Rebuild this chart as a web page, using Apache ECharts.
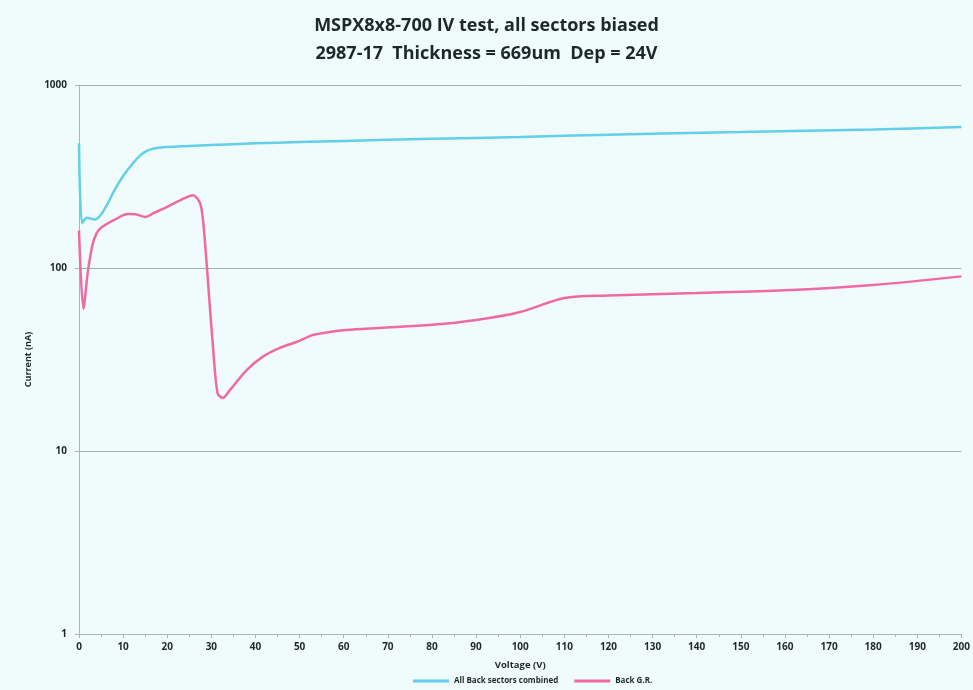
<!DOCTYPE html>
<html><head><meta charset="utf-8">
<script src="https://cdn.jsdelivr.net/npm/echarts@6/dist/echarts.min.js"></script>
<style>html,body{margin:0;padding:0;background:#f0fbfb}#c{width:973px;height:690px}</style>
</head><body><div id="c"></div>
<script>
const titleLines = ['MSPX8x8-700 IV test, all sectors biased', '2987-17  Thickness = 669um  Dep = 24V'];
const seriesNames = ['All Back sectors combined', 'Back G.R.'];
const voltsAll = [0, 0.7, 1.8, 3.6, 5, 6.5, 8, 10, 12, 14, 15.5, 17, 20, 25, 30, 40, 50, 60, 80, 100, 120, 150, 180, 200];
const currentAll = [480, 176, 188, 184, 196, 225, 265, 318, 368, 415, 438, 450, 458, 464, 470, 480, 488, 495, 508, 520, 535, 553, 572, 589];
const voltsGR = [0, 1, 2, 3, 4, 5, 8, 11, 13, 15, 17, 20, 23, 25.8, 27.4, 28.1, 29, 29.6, 30.3, 31.4, 32.6, 34.2, 38, 41.6, 45.5, 49.3, 52.9, 56.8, 60.6, 68.1, 80, 90, 100, 110, 120, 140, 160, 180, 200];
const currentGR = [160, 60, 95, 132, 155, 166, 183, 197, 196, 190, 200, 216, 235, 250, 227, 183, 101, 64, 39, 20.7, 19.5, 21.5, 27.7, 32.7, 36.6, 39.4, 43, 44.7, 45.8, 47, 48.9, 52, 57.5, 68.6, 70.8, 73, 75.5, 80.8, 90];
const xTicks = {min: 0, max: 200, interval: 10};
const yTicks = {min: 1, max: 1000};

const pair = (xs, ys) => xs.map((x, i) => [x, ys[i]]);
const font = '"Open Sans", "Noto Sans", sans-serif';
const ink = '#1a2a2a';
const chart = echarts.init(document.getElementById('c'));
chart.setOption({
  backgroundColor: '#f0fbfb',
  animation: false,
  title: {
    text: titleLines.join('\n'), left: 'center', top: 7,
    textStyle: {fontFamily: font, fontSize: 18, fontWeight: 'bold', color: ink, lineHeight: 28}
  },
  grid: {left: 79, right: 10, top: 85, bottom: 56},
  legend: {
    bottom: 0, left: 408, itemWidth: 36, itemHeight: 3, itemGap: 16, icon: 'rect',
    textStyle: {fontFamily: font, fontSize: 8, fontWeight: 'bold', color: ink},
    data: seriesNames
  },
  xAxis: {
    type: 'value', min: xTicks.min, max: xTicks.max, interval: xTicks.interval,
    name: 'Voltage (V)', nameLocation: 'middle', nameGap: 26,
    nameTextStyle: {fontFamily: font, fontSize: 9.5, fontWeight: 'bold', color: ink},
    axisLine: {lineStyle: {color: '#a8b8b4'}},
    axisTick: {show: true, length: 4, lineStyle: {color: '#a8b8b4'}},
    minorTick: {show: true, splitNumber: 2, length: 3, lineStyle: {color: '#a8b8b4'}},
    axisLabel: {fontFamily: font, fontSize: 10, fontWeight: 'bold', color: ink, margin: 8},
    splitLine: {show: false}
  },
  yAxis: {
    type: 'log', logBase: 10, min: yTicks.min, max: yTicks.max,
    name: 'Current (nA)', nameLocation: 'middle', nameGap: 44, nameRotate: 90,
    nameTextStyle: {fontFamily: font, fontSize: 9, fontWeight: 'bold', color: ink},
    axisLine: {show: true, lineStyle: {color: '#a8b8b4'}},
    axisTick: {show: true, length: 4, lineStyle: {color: '#a8b8b4'}},
    axisLabel: {fontFamily: font, fontSize: 10, fontWeight: 'bold', color: ink, margin: 12,
      formatter: v => String(Math.round(v))},
    splitLine: {show: true, lineStyle: {color: '#9fb5a8', width: 1}}
  },
  series: [
    {name: seriesNames[0], type: 'line', data: pair(voltsAll, currentAll), smooth: 0.3, showSymbol: false,
     color: '#62d0e8', lineStyle: {width: 2.5, color: '#62d0e8'}},
    {name: seriesNames[1], type: 'line', data: pair(voltsGR, currentGR), smooth: 0.3, showSymbol: false,
     color: '#f06aa2', lineStyle: {width: 2.5, color: '#f06aa2'}}
  ]
});
</script></body></html>
